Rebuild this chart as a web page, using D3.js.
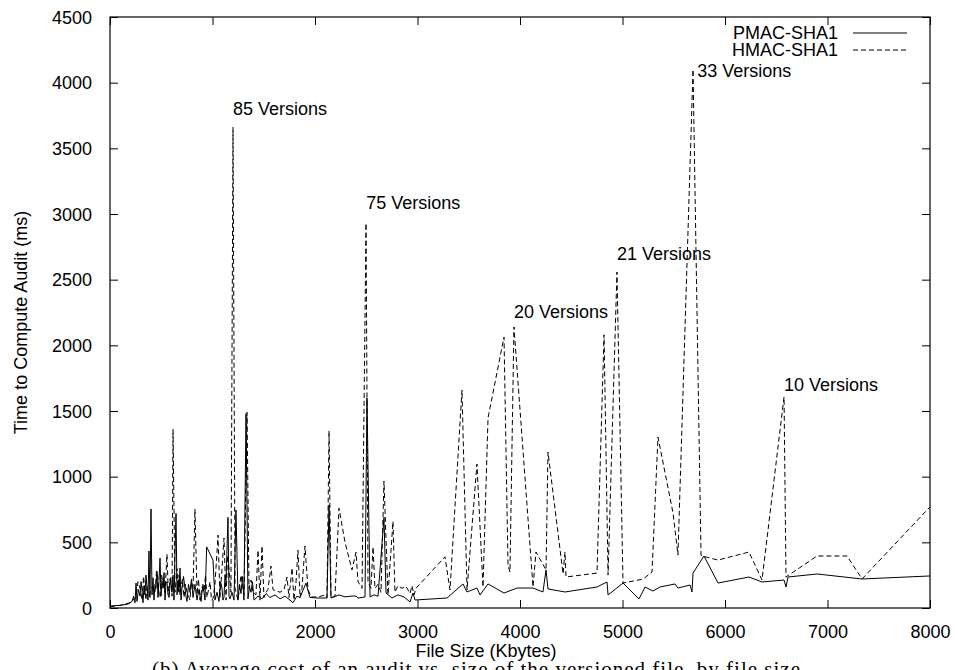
<!DOCTYPE html>
<html>
<head>
<meta charset="utf-8">
<script src="https://cdn.jsdelivr.net/npm/d3@7"></script>
<style>
  html, body { margin: 0; padding: 0; background: #fff; }
  svg { display: block; }
  text { font-family: "Liberation Sans", Arial, Helvetica, sans-serif; fill: #000; }
</style>
</head>
<body>
<svg id="chart" width="958" height="670"></svg>
<script>
// ---- data (File size in Kbytes, time in ms) ----
const hmacX = [0,98,195,254,273,293,312,327,341,351,361,370,380,410,439,454,468,478,488,500,517,537,556,566,576,585,595,605,615,634,644,654,663,673,683,693,707,722,737,751,766,780,795,810,829,849,863,878,898,917,932,946,961,976,990,1005,1024,1054,1073,1093,1112,1132,1146,1161,1180,1200,1220,1249,1278,1307,1337,1356,1376,1395,1424,1444,1463,1483,1502,1522,1541,1571,1590,1620,1659,1698,1727,1746,1776,1795,1815,1834,1854,1873,1902,1932,1961,2029,2098,2117,2137,2156,2195,2234,2293,2361,2400,2420,2459,2498,2517,2546,2566,2585,2615,2644,2673,2712,2761,2780,2810,2849,2888,2927,2946,2966,2985,3268,3317,3434,3483,3580,3639,3688,3844,3883,3902,3941,4127,4156,4254,4273,4420,4439,4449,4751,4820,4859,4946,5005,5200,5288,5346,5493,5541,5688,5766,5805,5932,6234,6361,6576,6595,6898,7190,7337,8000];
const hmacY = [10,20,40,80,200,150,60,240,130,60,170,110,90,160,120,280,230,100,80,260,200,120,410,180,100,220,180,90,1360,120,200,300,130,250,100,160,220,80,180,120,90,60,200,140,754,100,220,60,160,120,250,80,140,200,60,70,180,555,80,300,533,60,400,300,120,3660,150,60,250,100,1490,150,213,120,100,440,60,472,80,120,140,320,140,130,120,140,236,80,305,60,200,440,80,150,472,140,84,84,99,80,1350,80,90,760,500,290,425,200,150,2930,200,150,465,150,180,120,967,100,660,120,170,150,165,110,170,100,150,390,137,1660,137,1096,160,1447,2063,327,274,2140,160,426,290,1188,260,426,236,266,2080,251,2558,190,220,274,1302,723,403,4100,403,390,365,426,213,1607,236,396,396,221,770];

const pmacX = [0,98,176,215,230,244,254,263,278,293,303,312,322,332,341,351,361,371,380,390,400,410,420,429,439,449,458,468,478,488,498,507,517,527,537,546,556,566,576,590,605,615,624,644,654,663,673,683,693,702,717,732,741,751,766,780,795,810,829,849,868,888,907,927,943,1005,1024,1044,1063,1078,1093,1102,1112,1122,1132,1151,1161,1171,1190,1210,1229,1249,1263,1278,1293,1307,1327,1346,1361,1376,1390,1405,1444,1483,1522,1561,1610,1659,1707,1756,1785,1824,1854,1912,1951,2029,2117,2137,2156,2234,2293,2361,2400,2420,2488,2507,2537,2576,2615,2673,2693,2751,2810,2868,2927,2956,2976,3288,3444,3483,3580,3610,3688,3844,3971,4127,4224,4254,4273,4439,4751,4849,4859,5005,5161,5220,5298,5366,5512,5541,5659,5678,5688,5795,5932,6234,6361,6576,6595,6615,6898,7337,8000];
const pmacY = [15,20,30,50,90,40,190,50,140,90,200,137,40,170,100,250,160,60,434,80,754,100,230,60,180,150,280,80,200,380,90,210,150,270,60,190,200,100,80,230,120,250,60,720,100,210,120,305,60,150,240,150,90,50,180,120,220,80,180,60,140,50,180,60,465,365,60,120,50,200,150,60,80,250,200,690,90,70,120,60,746,60,180,110,240,60,1480,70,160,120,200,60,90,70,110,80,100,70,90,60,40,90,80,190,80,76,76,785,76,99,85,91,91,76,84,1600,84,100,90,690,114,76,100,84,46,114,61,76,183,122,152,99,183,114,152,152,122,290,145,122,160,198,99,190,69,160,129,160,183,152,175,122,266,396,190,236,198,213,160,236,259,221,244];

const seriesNames = ["PMAC-SHA1", "HMAC-SHA1"];
const xTicks = [0,1000,2000,3000,4000,5000,6000,7000,8000];
const yTicks = [0,500,1000,1500,2000,2500,3000,3500,4000,4500];
const annotX = [1200, 2500, 3941, 4946, 5730, 6576];
const annotY = [3660, 2930, 2140, 2558, 4100, 1607];
const annotText = ["85 Versions","75 Versions","20 Versions","21 Versions","33 Versions","10 Versions"];
const xTitle = "File Size (Kbytes)";
const yTitle = "Time to Compute Audit (ms)";
const caption = "(b) Average cost of an audit vs. size of the versioned file, by file size";

// ---- layout ----
const L = 110, R = 930, T = 17, B = 608;
const FS = 18;
const svg = d3.select("#chart");
const x = d3.scaleLinear().domain([0, 8000]).range([L, R]);
const y = d3.scaleLinear().domain([0, 4500]).range([B, T]);
const tickLen = 8;

// axes with inward ticks (gnuplot style, mirrored)
const gx = svg.append("g").attr("transform", `translate(0,${B})`)
  .call(d3.axisBottom(x).tickValues(xTicks).tickSize(-tickLen).tickPadding(17).tickFormat(d3.format("d")));
const gxt = svg.append("g").attr("transform", `translate(0,${T})`)
  .call(d3.axisTop(x).tickValues(xTicks).tickSize(-tickLen).tickFormat(""));
const gy = svg.append("g").attr("transform", `translate(${L},0)`)
  .call(d3.axisLeft(y).tickValues(yTicks).tickSize(-tickLen).tickPadding(18).tickFormat(d3.format("d")));
const gyr = svg.append("g").attr("transform", `translate(${R},0)`)
  .call(d3.axisRight(y).tickValues(yTicks).tickSize(-tickLen).tickFormat(""));
[gx, gxt, gy, gyr].forEach(g => {
  g.select(".domain").remove();
  g.selectAll("line").attr("stroke", "#000").attr("stroke-width", 1);
  g.selectAll("text").attr("font-size", FS).attr("fill", "#000")
    .attr("font-family", "Liberation Sans, Arial, sans-serif");
});
gy.selectAll("text").attr("dy", "0.35em");

// border
svg.append("rect").attr("x", L).attr("y", T).attr("width", R - L).attr("height", B - T)
  .attr("fill", "none").attr("stroke", "#000").attr("stroke-width", 1.2);

// lines
const line = d3.line().x(d => x(d[0])).y(d => y(d[1]));
const pmac = pmacX.map((v, i) => [v, pmacY[i]]);
const hmac = hmacX.map((v, i) => [v, hmacY[i]]);
const plotG = svg.append("g");
plotG.append("path").datum(hmac).attr("d", line).attr("fill", "none")
  .attr("stroke", "#000").attr("stroke-width", 1).attr("stroke-dasharray", "5,3");
plotG.append("path").datum(pmac).attr("d", line).attr("fill", "none")
  .attr("stroke", "#000").attr("stroke-width", 1);

// annotations (baseline offset from peak in px)
const annotDy = [-12, -14, -9, -12, 7, -6];
annotText.forEach((t, i) => {
  svg.append("text").attr("x", x(annotX[i])).attr("y", y(annotY[i]) + annotDy[i])
    .attr("font-size", FS).text(t);
});

// legend
const legY = [33, 50];
const dashes = [null, "5,3"];
seriesNames.forEach((n, i) => {
  svg.append("text").attr("x", 838).attr("y", legY[i]).attr("dy", "0.35em")
    .attr("text-anchor", "end").attr("font-size", FS).text(n);
  svg.append("line").attr("x1", 853).attr("x2", 907).attr("y1", legY[i]).attr("y2", legY[i])
    .attr("stroke", "#000").attr("stroke-width", 1)
    .attr("stroke-dasharray", dashes[i]);
});

// titles
svg.append("text").attr("x", 486).attr("y", 657).attr("text-anchor", "middle")
  .attr("font-size", FS).text(xTitle);
svg.append("text").attr("transform", `translate(27,${(T + B) / 2 + 10}) rotate(-90)`)
  .attr("text-anchor", "middle").attr("font-size", FS).text(yTitle);
svg.append("text").attr("x", 152).attr("y", 676)
  .attr("font-size", 21).attr("textLength", 648).attr("lengthAdjust", "spacing")
  .style("font-family", "Liberation Serif, Times New Roman, serif").text(caption);
</script>
</body>
</html>
